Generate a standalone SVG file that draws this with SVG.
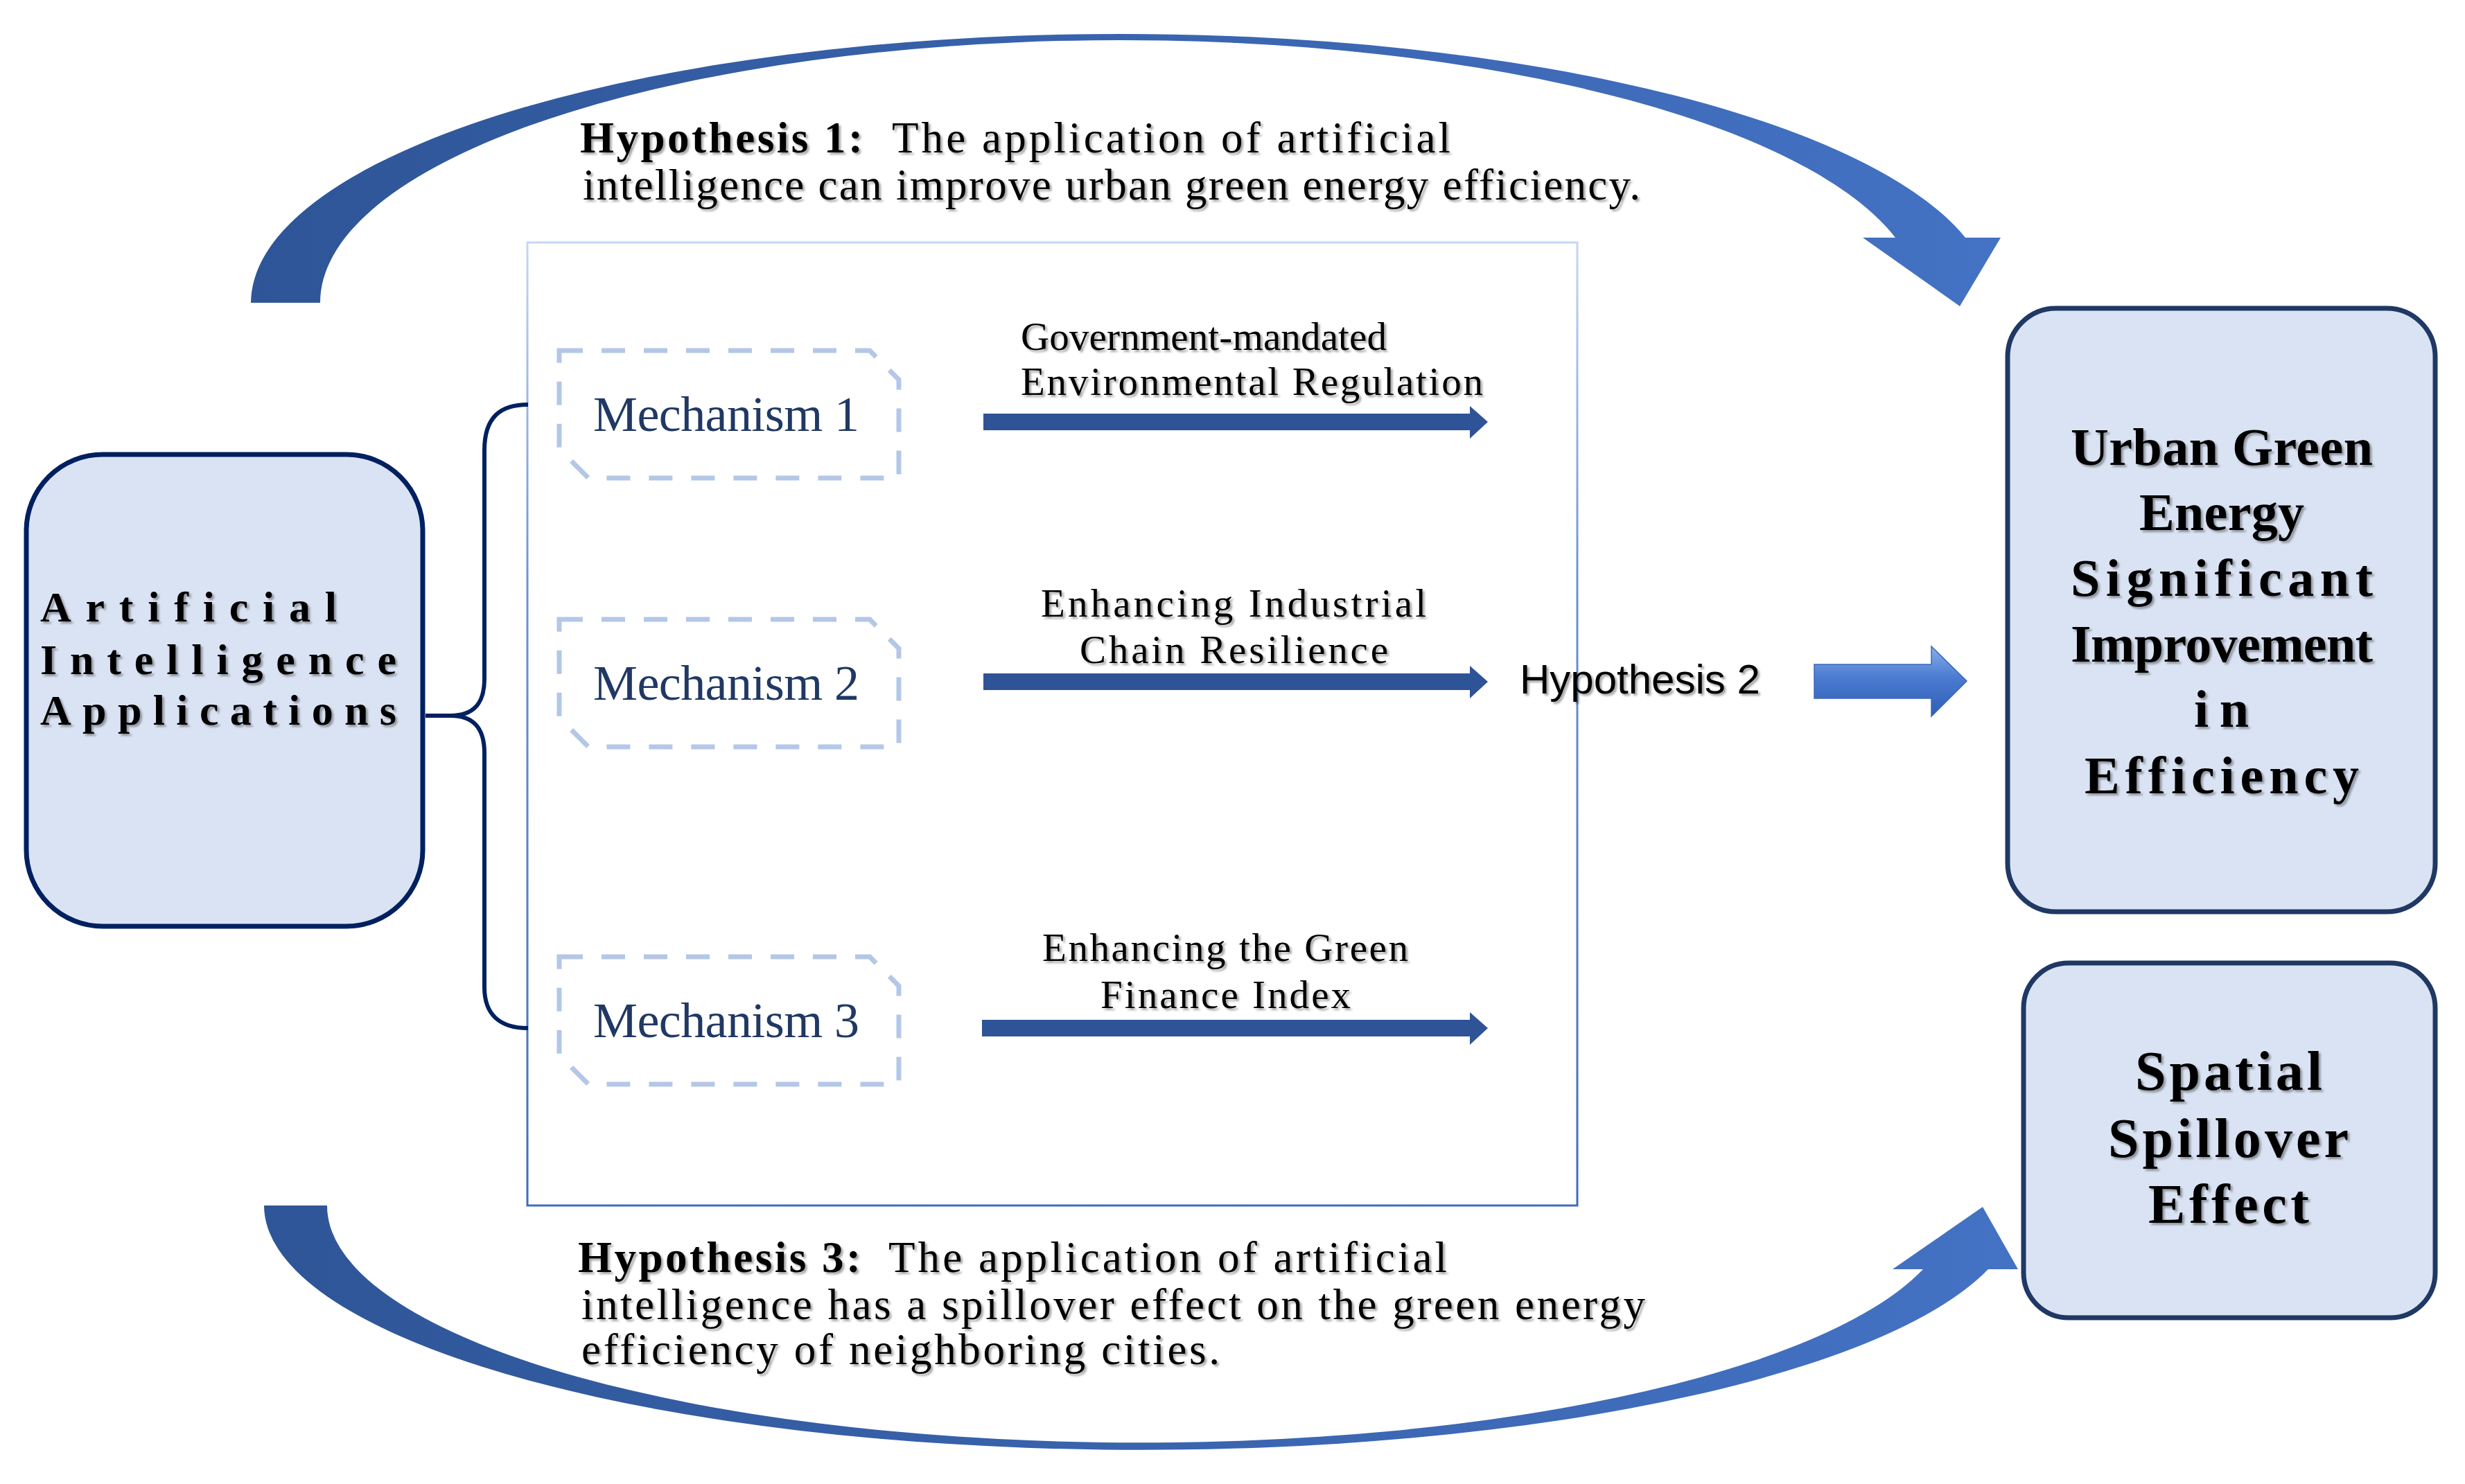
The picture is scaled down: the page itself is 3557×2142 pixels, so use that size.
<svg xmlns="http://www.w3.org/2000/svg" width="3557" height="2142" viewBox="0 0 3557 2142">
<defs>
<linearGradient id="arcG" x1="0" y1="0" x2="1" y2="0">
<stop offset="0" stop-color="#2E5597"/>
<stop offset="1" stop-color="#4472C4"/>
</linearGradient>
<linearGradient id="h2G" x1="0" y1="0" x2="0" y2="1">
<stop offset="0" stop-color="#86AEEB"/>
<stop offset="0.45" stop-color="#4A7BD0"/>
<stop offset="1" stop-color="#2F5FB5"/>
</linearGradient>
<linearGradient id="panelG" x1="0" y1="0" x2="0" y2="1">
<stop offset="0" stop-color="#C6D7F2"/>
<stop offset="0.35" stop-color="#6C93D8"/>
<stop offset="1" stop-color="#3F6CC0"/>
</linearGradient>
<filter id="sh" x="-5%" y="-20%" width="110%" height="140%">
<feDropShadow dx="3" dy="3" stdDeviation="1.6" flood-color="#000" flood-opacity="0.35"/>
</filter>
<style>
.node{fill:#DAE3F3;stroke-width:7}
.serif{font-family:"Liberation Serif","Times New Roman",serif}
.mech{fill:none;stroke:#B4C7E7;stroke-width:7;stroke-dasharray:34 27}
.mtxt{fill:#203864;font-size:72px}
.lab{font-size:57px;fill:#000}
.hyp{font-size:63px;fill:#000}
.blk{fill:#2E5396}
.ntxt{font-weight:bold;fill:#000}
</style>
</defs>
<rect width="3557" height="2142" fill="#fff"/>

<g id="panel">
<rect x="761" y="350" width="1515" height="1390" fill="none" stroke="url(#panelG)" stroke-width="3"/>
</g>

<g id="connectors">
<path id="arc-h1" fill="url(#arcG)" d="M 362 437 A 1256 389 0 0 1 2836 343 L 2887 343 L 2828 442 L 2688 343 L 2735 343 A 1154.5 379 0 0 0 462 437 Z"/>
<path id="arc-h3" fill="url(#arcG)" d="M 381 1740 A 1266 353 0 0 0 2869 1832 L 2912 1832 L 2861 1742 L 2731 1832 L 2775 1832 A 1173 342 0 0 1 472 1740 Z"/>
<path id="brace" fill="none" stroke="#002060" stroke-width="6" d="M 762 584 C 722 584 699 602 699 650 L 699 980 C 699 1015 684 1033 650 1033 L 614 1033 M 650 1033 C 684 1033 699 1052 699 1087 L 699 1425 C 699 1465 722 1484 762 1484"/>
<polygon class="blk" points="1419,597 2121,597 2121,586 2147,609 2121,633 2121,621 1419,621"/>
<polygon class="blk" points="1419,972 2121,972 2121,961 2147,984 2121,1008 2121,996 1419,996"/>
<polygon class="blk" points="1417,1472 2121,1472 2121,1461 2147,1484 2121,1508 2121,1496 1417,1496"/>
<polygon fill="url(#h2G)" stroke="#3A67B8" stroke-width="1.5" points="2618,959 2787,959 2787,933 2838,983 2787,1034 2787,1008 2618,1008"/>
</g>

<g id="labels" filter="url(#sh)">
<text class="serif hyp" font-weight="bold" x="837" y="220" textLength="408" lengthAdjust="spacing">Hypothesis 1:</text>
<text class="serif hyp" x="1287" y="220" textLength="806" lengthAdjust="spacing">The application of artificial</text>
<text class="serif hyp" x="841" y="288" textLength="1526" lengthAdjust="spacing">intelligence can improve urban green energy efficiency.</text>
<text class="serif lab" x="1473" y="505" textLength="528" lengthAdjust="spacing">Government-mandated</text>
<text class="serif lab" x="1473" y="570" textLength="667" lengthAdjust="spacing">Environmental Regulation</text>
<text class="serif lab" x="1502" y="890" textLength="556" lengthAdjust="spacing">Enhancing Industrial</text>
<text class="serif lab" x="1558" y="957" textLength="445" lengthAdjust="spacing">Chain Resilience</text>
<text class="serif lab" x="1504" y="1387" textLength="528" lengthAdjust="spacing">Enhancing the Green</text>
<text class="serif lab" x="1588" y="1455" textLength="361" lengthAdjust="spacing">Finance Index</text>
<text x="2193" y="1001" font-family="Liberation Sans, Arial, sans-serif" font-size="60" fill="#000">Hypothesis 2</text>
<text class="serif hyp" font-weight="bold" x="834" y="1836" textLength="408" lengthAdjust="spacing">Hypothesis 3:</text>
<text class="serif hyp" x="1282" y="1836" textLength="806" lengthAdjust="spacing">The application of artificial</text>
<text class="serif hyp" x="839" y="1904" textLength="1535" lengthAdjust="spacing">intelligence has a spillover effect on the green energy</text>
<text class="serif hyp" x="839" y="1969" textLength="921" lengthAdjust="spacing">efficiency of neighboring cities.</text>
</g>

<g id="node-ai">
<rect class="node" x="38" y="656" width="572" height="681" rx="110" stroke="#002060"/>
<g filter="url(#sh)" class="serif ntxt" font-size="62">
<text x="58" y="897" textLength="428" lengthAdjust="spacing">Artificial</text>
<text x="58" y="973" textLength="514" lengthAdjust="spacing">Intelligence</text>
<text x="58" y="1046" textLength="514" lengthAdjust="spacing">Applications</text>
</g>
</g>

<g id="mech-1">
<path class="mech" d="M 807 506 L 1255 506 L 1297 548 L 1297 690 L 849 690 L 807 648 Z"/>
<text class="serif mtxt" x="856" y="622" textLength="384" lengthAdjust="spacing">Mechanism 1</text>
</g>
<g id="mech-2">
<path class="mech" d="M 807 894 L 1255 894 L 1297 936 L 1297 1078 L 849 1078 L 807 1036 Z"/>
<text class="serif mtxt" x="856" y="1010" textLength="384" lengthAdjust="spacing">Mechanism 2</text>
</g>
<g id="mech-3">
<path class="mech" d="M 807 1381 L 1255 1381 L 1297 1423 L 1297 1565 L 849 1565 L 807 1523 Z"/>
<text class="serif mtxt" x="856" y="1497" textLength="384" lengthAdjust="spacing">Mechanism 3</text>
</g>

<g id="node-urban">
<rect class="node" x="2897" y="445" width="617" height="871" rx="70" stroke="#1F3864"/>
<g filter="url(#sh)" class="serif ntxt" font-size="76">
<text x="2988" y="671" textLength="436" lengthAdjust="spacing">Urban Green</text>
<text x="3087" y="765" textLength="238" lengthAdjust="spacing">Energy</text>
<text x="2988" y="860" textLength="436" lengthAdjust="spacing">Significant</text>
<text x="2988" y="955" textLength="436" lengthAdjust="spacing">Improvement</text>
<text x="3166" y="1049" textLength="79" lengthAdjust="spacing">in</text>
<text x="3008" y="1145" textLength="396" lengthAdjust="spacing">Efficiency</text>
</g>
</g>

<g id="node-spatial">
<rect class="node" x="2920" y="1390" width="594" height="512" rx="65" stroke="#1F3864"/>
<g filter="url(#sh)" class="serif ntxt" font-size="80">
<text x="3081" y="1573" textLength="270" lengthAdjust="spacing">Spatial</text>
<text x="3042" y="1670" textLength="347" lengthAdjust="spacing">Spillover</text>
<text x="3100" y="1765" textLength="232" lengthAdjust="spacing">Effect</text>
</g>
</g>
</svg>
